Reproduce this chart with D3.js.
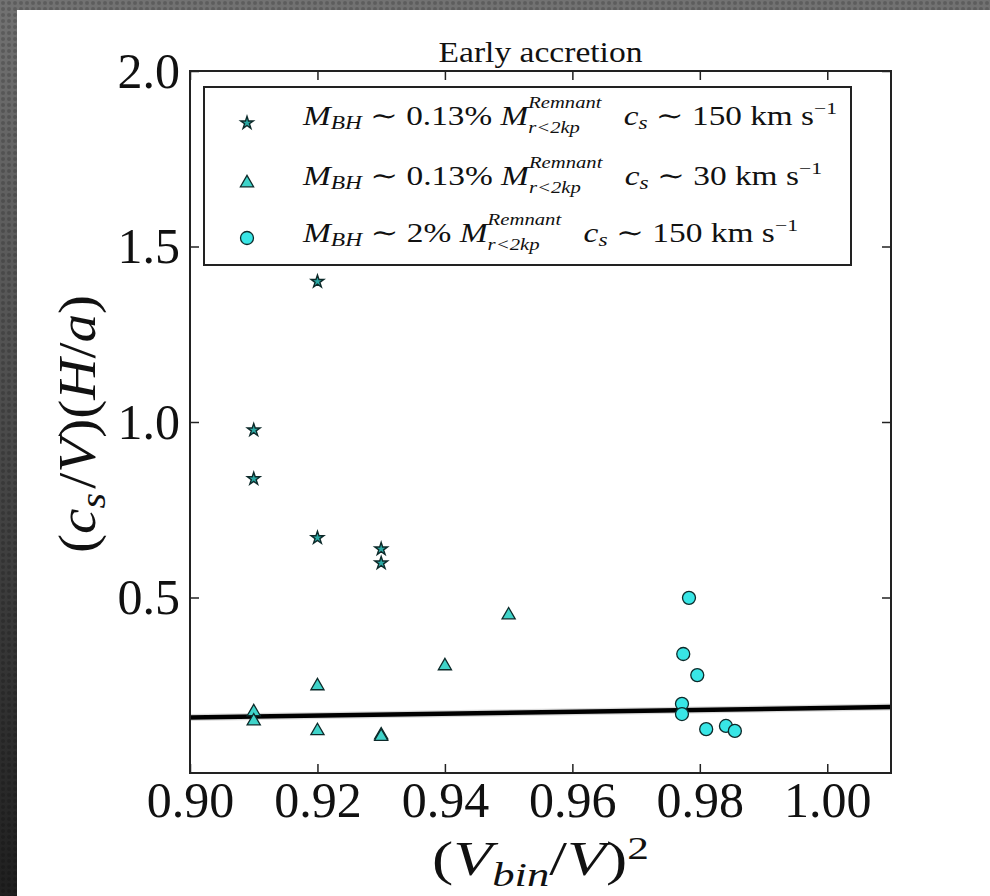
<!DOCTYPE html>
<html>
<head>
<meta charset="utf-8">
<script src="https://cdn.jsdelivr.net/npm/d3@7"></script>
<style>
  body { margin: 0; background: #fff; }
  svg text { font-family: "Liberation Serif", "DejaVu Serif", serif; fill: #111; }
</style>
</head>
<body>
<div id="dataviz"></div>
<script>
var svgWidth = 990;
var svgHeight = 896;
var margin = {top: 71, right: 99, bottom: 123, left: 190};
var width = svgWidth - margin.left - margin.right;
var height = svgHeight - margin.top - margin.bottom;

// data
var xTicks = [0.90, 0.92, 0.94, 0.96, 0.98, 1.00];
var yTicks = [0.5, 1.0, 1.5, 2.0];

var starX = [0.92, 0.91, 0.91, 0.92, 0.93, 0.93];
var starY = [1.400, 0.977, 0.838, 0.670, 0.638, 0.598];

var triX = [0.95, 0.94, 0.92, 0.91, 0.91, 0.92, 0.93, 0.93];
var triY = [0.450, 0.305, 0.248, 0.174, 0.148, 0.120, 0.108, 0.104];

var circX = [0.9783, 0.9774, 0.9796, 0.9772, 0.9772, 0.9810, 0.9841, 0.9855];
var circY = [0.499, 0.339, 0.279, 0.197, 0.168, 0.125, 0.134, 0.120];

var fitX = [0.90, 1.01];
var fitY = [0.158, 0.188];
var fitLow = [0.148, 0.178];
var fitHigh = [0.168, 0.198];

var legendPct = ["0.13%", "0.13%", "2%"];
var legendCs = ["150", "30", "150"];

var svg = d3.select("#dataviz")
	.append("svg")
	.attr("width", svgWidth)
	.attr("height", svgHeight);

// dark textured frame behind the white panel
var defs = svg.append("defs");
var grad = defs.append("linearGradient")
	.attr("id", "bg")
	.attr("x1", 0).attr("y1", 0).attr("x2", 0).attr("y2", 1);
grad.append("stop").attr("offset", "0%").attr("stop-color", "#727272");
grad.append("stop").attr("offset", "100%").attr("stop-color", "#1f1f1f");
var pat = defs.append("pattern")
	.attr("id", "dots")
	.attr("width", 6).attr("height", 6)
	.attr("patternUnits", "userSpaceOnUse");
pat.append("circle").attr("cx", 3).attr("cy", 3).attr("r", 2)
	.attr("fill", "#000").attr("opacity", 0.18);

svg.append("rect").attr("width", svgWidth).attr("height", svgHeight).attr("fill", "url(#bg)");
svg.append("rect").attr("width", svgWidth).attr("height", svgHeight).attr("fill", "url(#dots)");
svg.append("rect")
	.attr("x", 17).attr("y", 10)
	.attr("width", svgWidth - 17).attr("height", svgHeight - 10)
	.attr("fill", "#fff");

var g = svg.append("g")
	.attr("transform", "translate(" + margin.left + "," + margin.top + ")");

var x = d3.scaleLinear().domain([0.90, 1.01]).range([0, width]);
var y = d3.scaleLinear().domain([0, 2.0]).range([height, 0]);

// lays out a run of text pieces (italic, sub, sup, stacked) at 0,0
// and stretches the run to the wanted width
function richText(parent, segs, size, target) {
	var inner = parent.append("g");
	var cx = 0, prevStart = 0, prevW = 0;
	segs.forEach(function(s) {
		if (s.gap) { cx += s.gap; return; }
		var fs = s.small ? size * s.small : ((s.sub || s.sup) ? size * 0.7 : size);
		var dy = s.dy !== undefined ? s.dy * size : (s.sup ? -size * 0.4 : (s.sub ? size * 0.2 : 0));
		var start = s.stack ? prevStart : cx;
		var t = inner.append("text")
			.attr("x", start)
			.attr("y", dy)
			.attr("font-size", fs)
			.attr("font-style", s.it ? "italic" : "normal")
			.style("white-space", "pre")
			.text(s.t);
		var w = t.node().getComputedTextLength();
		if (s.stack) {
			cx = start + Math.max(w, prevW);
		} else {
			prevStart = start;
			prevW = w;
			cx = start + w;
		}
	});
	if (target) inner.attr("transform", "scale(" + (target / cx) + ",1)");
	return target || cx;
}

// fit line with its grey band
var band = fitX.map(function(v, i) { return {x: v, lo: fitLow[i], hi: fitHigh[i], y: fitY[i]}; });
g.append("path")
	.datum(band)
	.attr("fill", "#cfcfcf")
	.attr("opacity", 0.8)
	.attr("d", d3.area()
		.x(function(d) { return x(d.x); })
		.y0(function(d) { return y(d.lo); })
		.y1(function(d) { return y(d.hi); }));
g.append("path")
	.datum(band)
	.attr("fill", "none")
	.attr("stroke", "#000")
	.attr("stroke-width", 4.5)
	.attr("d", d3.line()
		.x(function(d) { return x(d.x); })
		.y(function(d) { return y(d.y); }));

// markers
var starSym = d3.symbol().type(d3.symbolStar).size(50);
var triSym = d3.symbol().type(d3.symbolTriangle).size(75);
var starFill = "#2aa9a4", triFill = "#3fd3c9", circFill = "#38e6e6", edge = "#0d2a2a";

g.selectAll(".tri")
	.data(triX.map(function(v, i) { return {x: v, y: triY[i]}; }))
	.enter().append("path")
	.attr("class", "tri")
	.attr("d", triSym)
	.attr("transform", function(d) { return "translate(" + x(d.x) + "," + y(d.y) + ")"; })
	.attr("fill", triFill)
	.attr("stroke", edge)
	.attr("stroke-width", 1.3);

g.selectAll(".star")
	.data(starX.map(function(v, i) { return {x: v, y: starY[i]}; }))
	.enter().append("path")
	.attr("class", "star")
	.attr("d", starSym)
	.attr("transform", function(d) { return "translate(" + x(d.x) + "," + y(d.y) + ")"; })
	.attr("fill", starFill)
	.attr("stroke", edge)
	.attr("stroke-width", 1.4);

g.selectAll(".circ")
	.data(circX.map(function(v, i) { return {x: v, y: circY[i]}; }))
	.enter().append("circle")
	.attr("class", "circ")
	.attr("r", 6.5)
	.attr("cx", function(d) { return x(d.x); })
	.attr("cy", function(d) { return y(d.y); })
	.attr("fill", circFill)
	.attr("stroke", edge)
	.attr("stroke-width", 1.3);

// axes: inward ticks on all four sides
var axBottom = g.append("g")
	.attr("transform", "translate(0," + height + ")")
	.call(d3.axisBottom(x).tickValues(xTicks).tickFormat(d3.format(".2f")).tickSize(-9).tickPadding(8));
var axTop = g.append("g")
	.call(d3.axisTop(x).tickValues(xTicks).tickFormat("").tickSize(-9));
var axLeft = g.append("g")
	.call(d3.axisLeft(y).tickValues(yTicks).tickFormat(d3.format(".1f")).tickSize(-9).tickPadding(10));
var axRight = g.append("g")
	.attr("transform", "translate(" + width + ",0)")
	.call(d3.axisRight(y).tickValues(yTicks).tickFormat("").tickSize(-9));

[axBottom, axTop, axLeft, axRight].forEach(function(a) {
	a.select(".domain").remove();
	a.selectAll("line").attr("stroke", "#222").attr("stroke-width", 1.5);
	a.selectAll("text").attr("font-size", 50).attr("fill", "#111")
		.style("font-family", "'Liberation Serif', serif");
});

g.append("rect")
	.attr("width", width).attr("height", height)
	.attr("fill", "none")
	.attr("stroke", "#222")
	.attr("stroke-width", 2);

// title
svg.append("text")
	.attr("x", margin.left + width / 2)
	.attr("y", 62)
	.attr("text-anchor", "middle")
	.attr("font-size", 30)
	.attr("textLength", 204)
	.attr("lengthAdjust", "spacingAndGlyphs")
	.text("Early accretion");

// x label
var xl = svg.append("g");
var xw = richText(xl, [
	{t: "("}, {t: "V", it: true}, {t: "bin", it: true, sub: true, dy: 0.22},
	{t: "/"}, {t: "V", it: true}, {t: ")"}, {t: "2", sup: true, small: 0.68, dy: -0.34}
], 48, 217);
xl.attr("transform", "translate(" + (margin.left + width / 2 - xw / 2) + ",875)");

// y label
var yl = svg.append("g");
var yw = richText(yl, [
	{t: "("}, {t: "c", it: true}, {t: "s", it: true, sub: true, dy: 0.2},
	{gap: 4}, {t: "/"}, {t: "V", it: true}, {t: ")("}, {t: "H", it: true},
	{t: "/"}, {t: "a", it: true}, {t: ")"}
], 52, 258);
yl.attr("transform", "translate(95," + (424 + yw / 2) + ") rotate(-90)");

// legend
var lg = svg.append("g");
lg.append("rect")
	.attr("x", 204).attr("y", 87)
	.attr("width", 647).attr("height", 178)
	.attr("fill", "#fff")
	.attr("stroke", "#222")
	.attr("stroke-width", 2);

var rowY = [125, 185, 242];
var rowW = [534, 519, 495];
legendPct.forEach(function(pct, i) {
	var ry = rowY[i];
	if (i === 0) {
		lg.append("path").attr("d", starSym).attr("transform", "translate(247," + (ry - 2) + ")")
			.attr("fill", starFill).attr("stroke", edge).attr("stroke-width", 1.4);
	} else if (i === 1) {
		lg.append("path").attr("d", triSym).attr("transform", "translate(247," + (ry - 2) + ")")
			.attr("fill", triFill).attr("stroke", edge).attr("stroke-width", 1.3);
	} else {
		lg.append("circle").attr("cx", 247).attr("cy", ry - 4).attr("r", 6.5)
			.attr("fill", circFill).attr("stroke", edge).attr("stroke-width", 1.3);
	}
	var row = lg.append("g").attr("transform", "translate(303," + ry + ")");
	richText(row, [
		{t: "M", it: true}, {t: "BH", it: true, sub: true, dy: 0.14},
		{t: " ∼ " + pct + " "}, {t: "M", it: true},
		{t: "Remnant", it: true, sup: true, small: 0.62, dy: -0.62},
		{t: "r<2kp", it: true, sub: true, small: 0.62, dy: 0.3, stack: true},
		{gap: 18},
		{t: "c", it: true}, {t: "s", it: true, sub: true, dy: 0.14},
		{t: " ∼ " + legendCs[i] + " km s"}, {t: "−1", sup: true, small: 0.65, dy: -0.42}
	], 27, rowW[i]);
});
</script>
</body>
</html>
